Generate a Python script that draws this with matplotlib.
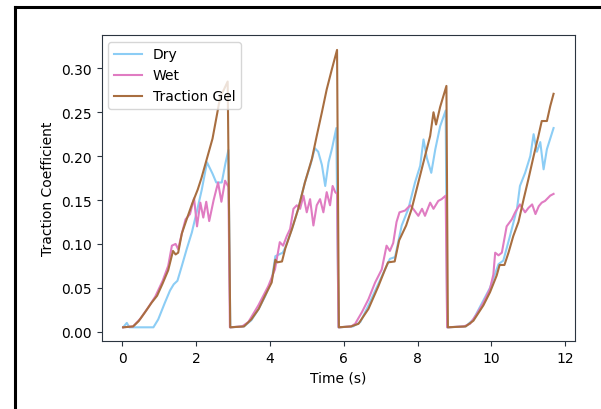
import matplotlib
matplotlib.use("Agg")
import matplotlib.pyplot as plt
from matplotlib.lines import Line2D

# ---- data ----
t_dry = [0.03, 0.13, 0.2, 0.85, 0.98, 1.16, 1.3, 1.4, 1.5, 1.62, 1.75, 1.89, 2.02, 2.16, 2.3,
         2.45, 2.55, 2.7, 2.8, 2.88, 2.93,
         3.3, 3.5, 3.7, 3.87, 4.05, 4.15, 4.25, 4.35, 4.42, 4.6, 4.77, 4.95, 5.1, 5.22, 5.31,
         5.41, 5.5, 5.59, 5.68, 5.8, 5.86,
         6.25, 6.45, 6.67, 7.03, 7.25, 7.39, 7.57, 7.75, 7.93, 8.07, 8.16, 8.25, 8.37, 8.48,
         8.61, 8.76, 8.8,
         9.3, 9.51, 9.96, 10.19, 10.32, 10.5, 10.69, 10.77, 10.91, 11.05, 11.14, 11.23, 11.32,
         11.41, 11.5, 11.59, 11.68]
dry = [0.005, 0.01, 0.005, 0.005, 0.014, 0.033, 0.047, 0.054, 0.058, 0.075, 0.094, 0.113, 0.136,
       0.162, 0.193, 0.18, 0.17, 0.17, 0.192, 0.207, 0.005,
       0.006, 0.013, 0.026, 0.04, 0.058, 0.086, 0.088, 0.09, 0.096, 0.117, 0.14, 0.17, 0.19,
       0.209, 0.205, 0.19, 0.166, 0.193, 0.208, 0.232, 0.005,
       0.006, 0.011, 0.03, 0.063, 0.083, 0.085, 0.121, 0.14, 0.17, 0.189, 0.219, 0.198, 0.181,
       0.208, 0.234, 0.252, 0.005,
       0.006, 0.014, 0.05, 0.077, 0.081, 0.109, 0.14, 0.166, 0.181, 0.2, 0.225, 0.205, 0.216,
       0.185, 0.208, 0.22, 0.232]

t_wet = [0.03, 0.3, 0.5, 0.7, 0.9, 1.1, 1.25, 1.35, 1.45, 1.52, 1.62, 1.72, 1.84, 1.95, 2.03,
         2.12, 2.2, 2.28, 2.36, 2.48, 2.6, 2.69, 2.79, 2.88, 2.92,
         3.25, 3.42, 3.69, 3.96, 4.14, 4.27, 4.36, 4.46, 4.55, 4.64, 4.73, 4.82, 4.91, 5.0,
         5.09, 5.18, 5.27, 5.36, 5.45, 5.54, 5.63, 5.7, 5.77, 5.82, 5.86,
         6.2, 6.31, 6.49, 6.67, 6.85, 7.03, 7.16, 7.25, 7.34, 7.43, 7.51, 7.66, 7.8, 7.88,
         8.02, 8.12, 8.2, 8.34, 8.43, 8.56, 8.65, 8.76, 8.8,
         9.25, 9.42, 9.6, 9.78, 9.96, 10.05, 10.1, 10.19, 10.28, 10.41, 10.55, 10.64, 10.77,
         10.91, 11.0, 11.1, 11.19, 11.28, 11.36, 11.45, 11.59, 11.68]
wet = [0.005, 0.006, 0.015, 0.027, 0.04, 0.058, 0.075, 0.098, 0.1, 0.094, 0.112, 0.128, 0.134,
       0.152, 0.12, 0.147, 0.13, 0.148, 0.126, 0.15, 0.17, 0.148, 0.172, 0.165, 0.005,
       0.006, 0.011, 0.03, 0.052, 0.071, 0.102, 0.098, 0.109, 0.117, 0.14, 0.144, 0.14, 0.155,
       0.136, 0.151, 0.121, 0.144, 0.151, 0.136, 0.159, 0.144, 0.166, 0.159, 0.157, 0.005,
       0.006, 0.009, 0.022, 0.037, 0.056, 0.071, 0.098, 0.092, 0.101, 0.125, 0.136, 0.138,
       0.144, 0.14, 0.132, 0.14, 0.132, 0.147, 0.14, 0.149, 0.151, 0.155, 0.005,
       0.006, 0.009, 0.02, 0.033, 0.049, 0.065, 0.09, 0.087, 0.09, 0.12, 0.128, 0.136, 0.145,
       0.136, 0.141, 0.145, 0.134, 0.143, 0.147, 0.149, 0.155, 0.157]

t_gel = [0.03, 0.3, 0.45, 0.62, 0.8, 0.95, 1.1, 1.25, 1.38, 1.45, 1.52, 1.62, 1.75, 1.9, 2.05,
         2.15, 2.25, 2.35, 2.45, 2.56, 2.66, 2.76, 2.86, 2.93,
         3.3, 3.5, 3.7, 3.87, 4.05, 4.15, 4.2, 4.33, 4.42, 4.6, 4.77, 4.95, 5.14, 5.27, 5.41,
         5.54, 5.68, 5.82, 5.87,
         6.2, 6.4, 6.67, 6.94, 7.12, 7.2, 7.38, 7.5, 7.69, 7.84, 8.02, 8.2, 8.34, 8.43, 8.5,
         8.61, 8.78, 8.82,
         9.3, 9.51, 9.78, 9.96, 10.14, 10.22, 10.35, 10.46, 10.59, 10.73, 10.87, 11.0, 11.14,
         11.27, 11.36, 11.5, 11.59, 11.68]
gel = [0.005, 0.006, 0.012, 0.022, 0.033, 0.041, 0.055, 0.07, 0.092, 0.088, 0.09, 0.112, 0.128,
       0.146, 0.162, 0.175, 0.19, 0.205, 0.22, 0.245, 0.268, 0.276, 0.285, 0.005,
       0.006, 0.014, 0.026, 0.041, 0.056, 0.082, 0.079, 0.08, 0.095, 0.117, 0.14, 0.17, 0.197,
       0.223, 0.25, 0.276, 0.299, 0.321, 0.005,
       0.006, 0.009, 0.026, 0.052, 0.071, 0.079, 0.08, 0.104, 0.121, 0.14, 0.17, 0.2, 0.223,
       0.25, 0.236, 0.256, 0.28, 0.005,
       0.006, 0.0125, 0.03, 0.045, 0.064, 0.076, 0.076, 0.09, 0.109, 0.125, 0.151, 0.174, 0.2,
       0.223, 0.24, 0.24, 0.257, 0.271]

labels = ["Dry", "Wet", "Traction Gel"]
colors = ["#8ccdf5", "#e07cc2", "#a86e40"]

# ---- figure ----
W, H = 601, 410
fig = plt.figure(figsize=(W / 100, H / 100), dpi=100)
ax = fig.add_axes([101.5 / W, (H - 342) / H, (575 - 101.5) / W, (342 - 36) / H])

ax.plot(t_dry, dry, color=colors[0], lw=1.5, label=labels[0])
ax.plot(t_wet, wet, color=colors[1], lw=1.5, label=labels[1])
ax.plot(t_gel, gel, color=colors[2], lw=1.5, label=labels[2])

ax.set_xlim(-0.555, 12.26)
ax.set_ylim(-0.0106, 0.338)
ax.set_xticks([0, 2, 4, 6, 8, 10, 12])
ax.set_yticks([0.0, 0.05, 0.10, 0.15, 0.20, 0.25, 0.30])
ax.set_yticklabels(["0.00", "0.05", "0.10", "0.15", "0.20", "0.25", "0.30"])
ax.set_xlabel("Time (s)")
ax.set_ylabel("Traction Coefficient")
for s in ax.spines.values():
    s.set_color("#2b3540")
ax.tick_params(colors="#2b3540", labelcolor="black")
ax.legend(loc="upper left")

# outer frame of the screenshot (left and top edges visible)
fig.add_artist(Line2D([15 / W, 15 / W], [0, 1 - 8 / H], transform=fig.transFigure,
                      color="black", lw=2.2))
fig.add_artist(Line2D([15 / W, 1], [1 - 8 / H, 1 - 8 / H], transform=fig.transFigure,
                      color="black", lw=2.2))

fig.savefig("out.png", dpi=100)
